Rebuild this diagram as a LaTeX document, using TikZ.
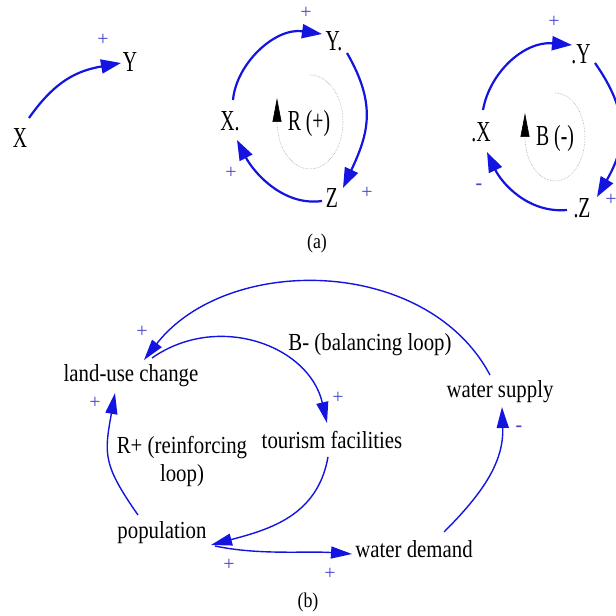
\documentclass[tikz,border=0pt]{standalone}
\usepackage{fontspec}
\setmainfont{Liberation Serif}[FakeStretch=0.85]
\newfontfamily\narrowserif{Liberation Serif}[FakeStretch=0.68]
\newfontfamily\plainserif{Liberation Serif}
\usepackage{xcolor}
\usetikzlibrary{arrows.meta}

\definecolor{linkblue}{RGB}{20,20,225}
\definecolor{signblue}{RGB}{70,70,200}

\begin{document}
\begin{tikzpicture}[
    x=1pt, y=1pt,
    var/.style={inner sep=0pt, font=\narrowserif\fontsize{29}{32}\selectfont},
    bigvar/.style={inner sep=0pt, align=center, font=\fontsize{24.5}{28}\selectfont},
    sign/.style={inner sep=0pt, text=signblue, font=\plainserif\fontsize{20}{22}\selectfont},
    caption/.style={inner sep=0pt, font=\fontsize{21}{24}\selectfont},
    link/.style={draw=linkblue, line width=2.2pt, -{Triangle[length=20pt,width=14pt]}},
    thinlink/.style={draw=linkblue, line width=1.4pt, -{Triangle[length=21pt,width=12pt]}},
    loopmark/.style={draw=gray!70, line width=0.6pt, densely dotted, -{Triangle[length=24pt,width=9pt,color=black,fill=black]}}
]
    \useasboundingbox (0,0) rectangle (616,616);

    % (a) single link and the two loops
    \node [var] (x1) at (20,478) {X};
    \node [var] (y1) at (130,554) {Y};

    \node [var] (xr) at (230,495) {X.};
    \node [var] (yr) at (334,575) {Y.};
    \node [var] (zr) at (332,418) {Z};
    \node [var] (rloop) at (309,492) {R (+)};

    \node [var] (xb) at (481,484) {.X};
    \node [var] (yb) at (581,562) {.Y};
    \node [var] (zb) at (582,408) {.Z};
    \node [var] (bloop) at (555,477) {B (-)};

    \node [sign] (s1) at (103,576) {+};
    \node [sign] (s2) at (306,603) {+};
    \node [sign] (s3) at (367,423) {+};
    \node [sign] (s4) at (231,443) {+};
    \node [sign] (s5) at (554,594) {+};
    \node [sign] (s6) at (611,416) {+};
    \node [sign] (s7) at (479,429) {\textbf{-}};

    \node [caption] (capa) at (317,373) {(a)};

    \draw [link] ([xshift=9pt,yshift=20pt]x1.center) to[out=55,in=190,distance=45pt] ([xshift=-9pt,yshift=-1pt]y1.center);

    \draw [link] ([xshift=3pt,yshift=21pt]xr.center) to[out=85,in=172,out distance=36pt,in distance=48pt] ([xshift=-12pt,yshift=7pt]yr.center);
    \draw [link] ([xshift=13pt,yshift=-12pt]yr.center) to[out=-60,in=65,distance=60pt] ([xshift=11pt,yshift=10pt]zr.center);
    \draw [link] ([xshift=-10pt,yshift=-3pt]zr.center) to[out=188,in=-63,out distance=40pt,in distance=35pt] ([xshift=7pt,yshift=-19pt]xr.center);

    \draw [link] ([xshift=2pt,yshift=22pt]xb.center) to[out=80,in=175,out distance=38pt,in distance=48pt] ([xshift=-9pt,yshift=9pt]yb.center);
    \draw [link] ([xshift=14pt,yshift=-9pt]yb.center) to[out=-55,in=60,distance=60pt] ([xshift=15pt,yshift=11pt]zb.center);
    \draw [link] ([xshift=-15pt,yshift=-2pt]zb.center) to[out=185,in=-65,out distance=40pt,in distance=33pt] ([xshift=6pt,yshift=-20pt]xb.center);

    \coordinate (rc) at (310,494);
    \coordinate (bc) at (555,479);
    \draw [loopmark] ([yshift=47pt]rc) arc[start angle=90,end angle=-180,x radius=33pt,y radius=47pt] -- ++(0,24);
    \draw [loopmark] ([yshift=44pt]bc) arc[start angle=90,end angle=-180,x radius=30pt,y radius=44pt] -- ++(0,24);

    % (b) land use and water
    \node [bigvar] (landuse) at (131,240) {land-use change};
    \node [bigvar] (tourism) at (332,176) {tourism facilities};
    \node [bigvar] (population) at (162,83) {population};
    \node [bigvar] (demand) at (414,67) {water demand};
    \node [bigvar] (supply) at (500,224) {water supply};
    \node [bigvar] (balance) at (370,271) {B- (balancing loop)};
    \node [bigvar] (reinforce) at (182,155) {R+ (reinforcing\\loop)};

    \node [sign] (s8) at (142,284) {+};
    \node [sign] (s9) at (95,213) {+};
    \node [sign] (s10) at (338,218) {+};
    \node [sign] (s11) at (229,51) {+};
    \node [sign] (s12) at (330,42) {+};
    \node [sign] (s13) at (519,187) {\textbf{-}};

    \node [caption] (capb) at (308,14) {(b)};

    \draw [thinlink] ([xshift=-10pt,yshift=17pt]supply.center) to[out=118,in=52,distance=135pt] ([xshift=13pt,yshift=16pt]landuse.center);
    \draw [thinlink] ([xshift=21pt,yshift=18pt]landuse.center) to[out=35,in=103,distance=80pt] ([xshift=-5pt,yshift=17pt]tourism.center);
    \draw [thinlink] ([xshift=-4pt,yshift=-17pt]tourism.center) to[out=-100,in=15,distance=60pt] ([xshift=49pt,yshift=-12pt]population.center);
    \draw [thinlink] ([xshift=53pt,yshift=-13pt]population.center) to[out=-12,in=176,distance=45pt] ([xshift=-62pt,yshift=-5pt]demand.center);
    \draw [thinlink] ([xshift=30pt,yshift=17pt]demand.center) to[out=45,in=-88,distance=55pt] ([xshift=2pt,yshift=-15pt]supply.center);
    \draw [thinlink] ([xshift=-24pt,yshift=18pt]population.center) to[out=125,in=-100,distance=62pt] ([xshift=-16pt,yshift=-17pt]landuse.center);
\end{tikzpicture}
\end{document}
